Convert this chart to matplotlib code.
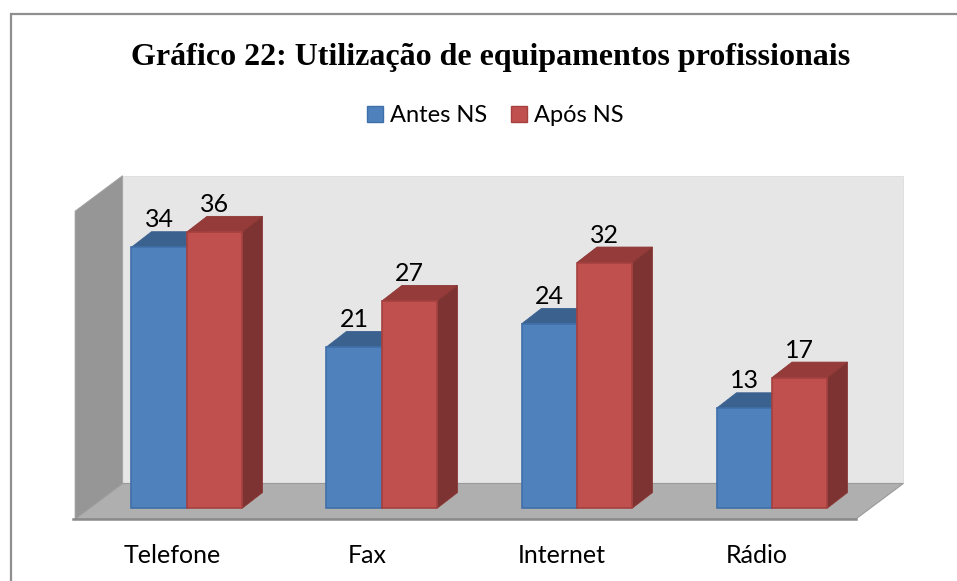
import matplotlib
matplotlib.use('Agg')
import matplotlib.pyplot as plt
from matplotlib.patches import Patch, Polygon

categories = ['Telefone', 'Fax', 'Internet', 'Rádio']
antes = [34, 21, 24, 13]
apos = [36, 27, 32, 17]

W, H = 957, 581
# scale of the chart in pixels
px_x = 195.0
px_y = 7.67
x0_px = 187.0
y0_px = 508.0
bar_w = 55.5 / px_x
dx = 20.0 / px_x
dy = 15.5 / px_y


def side_faces(ax, x, w, v, top, side, edge):
    ax.add_patch(Polygon([(x, v), (x + w, v), (x + w + dx, v + dy), (x + dx, v + dy)],
                         fc=top, ec=edge, lw=0.6, zorder=3))
    ax.add_patch(Polygon([(x + w, 0), (x + w + dx, dy), (x + w + dx, v + dy), (x + w, v)],
                         fc=side, ec=edge, lw=0.6, zorder=3))


fig = plt.figure(figsize=(W / 100, H / 100), dpi=100)
ax = fig.add_axes([0, 0, 1, 1])
ax.set_xlim((0 - x0_px) / px_x, (W - x0_px) / px_x)
ax.set_ylim((y0_px - H) / px_y, y0_px / px_y)
ax.axis('off')

# walls and floor of the 3d box
wall_l = -0.574
wall_r = 3.43
floor_front = -1.43
wall_top = 38.7
wall_dx = 47.5 / px_x
wall_dy = 35.5 / px_y
ax.add_patch(Polygon([(wall_l + wall_dx, floor_front + wall_dy), (wall_r + wall_dx, floor_front + wall_dy),
                      (wall_r + wall_dx, wall_top + wall_dy), (wall_l + wall_dx, wall_top + wall_dy)],
                     fc='#e6e6e6', ec='#dcdcdc', lw=0.6, zorder=1))
ax.add_patch(Polygon([(wall_l, floor_front), (wall_l + wall_dx, floor_front + wall_dy),
                      (wall_l + wall_dx, wall_top + wall_dy), (wall_l, wall_top)],
                     fc='#969696', ec='#a0a0a0', lw=0.6, zorder=1))
ax.add_patch(Polygon([(wall_l, floor_front), (wall_r, floor_front),
                      (wall_r + wall_dx, floor_front + wall_dy), (wall_l + wall_dx, floor_front + wall_dy)],
                     fc='#afafaf', ec='#9a9a9a', lw=0.8, zorder=1))
ax.plot([wall_l - 0.01, wall_r], [floor_front, floor_front], color='#8a8a8a', lw=1.8, zorder=2)

for i in range(len(categories)):
    side_faces(ax, i - bar_w, bar_w, antes[i], '#3b618f', '#3b618f', '#3b618f')
    side_faces(ax, i, bar_w, apos[i], '#953b39', '#7d3331', '#8c3836')

xs = list(range(len(categories)))
ax.bar([x - bar_w for x in xs], antes, bar_w, align='edge', color='#4f81bd', edgecolor='#3f6fa8', lw=1.2, zorder=4)
ax.bar(xs, apos, bar_w, align='edge', color='#c0504d', edgecolor='#a5413f', lw=1.2, zorder=4)

lab_font = ['Lato', 'DejaVu Sans']
for i in xs:
    ax.text(i - bar_w / 2, antes[i] + dy + 0.05, str(antes[i]), ha='center', va='bottom',
            fontsize=18, family=lab_font, color='black', zorder=5)
    ax.text(i + bar_w / 2, apos[i] + dy + 0.05, str(apos[i]), ha='center', va='bottom',
            fontsize=18, family=lab_font, color='black', zorder=5)
    ax.text(i - 0.077, -6.2, categories[i], ha='center', va='center',
            fontsize=18, family=lab_font, color='black', zorder=5)

# frame only on top and left, as in the picture
ax.plot([(10.5 - x0_px) / px_x, (10.5 - x0_px) / px_x, (W - x0_px) / px_x],
        [(y0_px - H) / px_y, (y0_px - 13.5) / px_y, (y0_px - 13.5) / px_y],
        color='#8f8f8f', lw=1.6, solid_joinstyle='miter', zorder=6)

fig.text(491 / W, 1 - 58 / H, 'Gráfico 22: Utilização de equipamentos profissionais', ha='center', va='center',
         fontsize=23, fontweight='bold', family='Liberation Serif')

handles = [Patch(fc='#4f81bd', ec='#3f6fa8', label='Antes NS'), Patch(fc='#c0504d', ec='#a5413f', label='Após NS')]
fig.legend(handles=handles, loc='center', bbox_to_anchor=(495 / W, 1 - 116 / H), ncol=2, frameon=False,
           prop={'family': lab_font, 'size': 17}, handlelength=0.68, handleheight=0.68,
           handletextpad=0.3, columnspacing=1.0)

fig.savefig('out.png', dpi=100)
